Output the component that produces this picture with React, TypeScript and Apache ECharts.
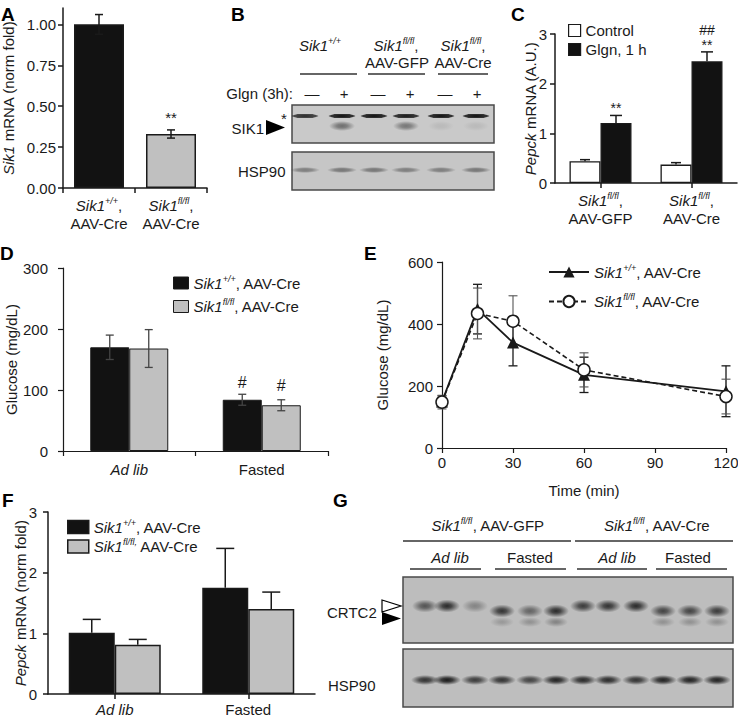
import React, { useEffect, useRef } from "react";
import * as echarts from "echarts";

const INK = "#1a1a1a";
const FONT = "'Liberation Sans', Arial, Helvetica, sans-serif";

// ---------------- data ----------------
// Panel A
const aCategories = ["+/+", "fl/fl"];
const aValues = [1.0, 0.33];
const aErrors = [0.06, 0.025];
const aSig = ["", "**"];
const aTicks = [0, 0.25, 0.5, 0.75, 1.0];

// Panel C
const cCategories = ["AAV-GFP", "AAV-Cre"];
const cControl = [0.44, 0.37];
const cControlErr = [0.03, 0.04];
const cGlgn = [1.21, 2.45];
const cGlgnErr = [0.15, 0.19];
const cSigStar = ["**", "**"];
const cSigHash = ["", "##"];
const cTicks = [0, 1, 2, 3];

// Panel D
const dCategories = ["Ad lib", "Fasted"];
const dItalic = [true, false];
const dWt = [170, 84];
const dWtErr = [20, 9];
const dKo = [168, 75];
const dKoErr = [31, 9];
const dSigWt = ["", "#"];
const dSigKo = ["", "#"];
const dTicks = [0, 100, 200, 300];

// Panel E
const eTime = [0, 15, 30, 60, 120];
const eWt = [150, 448, 340, 236, 183];
const eWtErr = [18, 80, 75, 57, 82];
const eKo = [148, 434, 409, 252, 166];
const eKoErr = [22, 82, 82, 55, 56];
const eYTicks = [0, 200, 400, 600];

// Panel F
const fCategories = ["Ad lib", "Fasted"];
const fItalic = [true, false];
const fWt = [1.01, 1.75];
const fWtErr = [0.22, 0.65];
const fKo = [0.81, 1.4];
const fKoErr = [0.09, 0.28];
const fTicks = [0, 1, 2, 3];

// Panel B blot (6 lanes)
const bLaneSigns = ["—", "+", "—", "+", "—", "+"];
const bSik1Upper = [0.85, 1, 1, 0.95, 1, 1];
const bSik1Lower = [0, 0.6, 0, 0.55, 0.1, 0.1];
const bHsp90 = [0.5, 0.55, 0.55, 0.5, 0.5, 0.55];

// Panel G blot (12 lanes)
const gCrtc2Main = [0.65, 0.9, 0.35, 0.85, 0.55, 0.9, 0.8, 0.85, 0.9, 0.75, 0.75, 0.8];
const gCrtc2Shift = [0, 0, 0, 1, 1, 1, 0, 0, 0, 1, 1, 1];
const gCrtc2Lower = [0, 0, 0, 0.25, 0.3, 0.4, 0, 0, 0, 0.3, 0.3, 0.3];
const gHsp90 = [0.85, 1, 0.8, 0.85, 0.75, 0.95, 0.9, 0.9, 0.85, 0.95, 0.95, 0.95];

// ---------------- helpers ----------------
function richSet(size: number) {
  const lh = size + 3;
  const sup = Math.round(size * 0.62);
  return {
    n: { fontSize: size, fontFamily: FONT, color: INK, lineHeight: lh },
    i: { fontSize: size, fontFamily: FONT, color: INK, fontStyle: "italic", lineHeight: lh },
    s: { fontSize: sup, fontFamily: FONT, color: INK, fontStyle: "italic", verticalAlign: "top", lineHeight: sup + 1 },
  };
}
const R15 = richSet(15);
const sik = (sup: string) => `{i|Sik1}{s|${sup}}`;

type ErrOpts = {
  offset: number; cap: number; both: boolean; color: string; width: number;
  sig?: string[]; sigGap?: number; sigSize?: number;
  sig2?: string[]; sig2Gap?: number;
};
function errorBars(o: ErrOpts) {
  return (params: any, api: any) => {
    const x0 = api.value(0);
    const v = api.value(1);
    const e = api.value(2);
    const pTop = api.coord([x0, v + e]);
    const pBot = api.coord([x0, o.both ? v - e : v]);
    const x = pTop[0] + o.offset;
    const st = { stroke: o.color, lineWidth: o.width };
    const ch: any[] = [
      { type: "line", shape: { x1: x, y1: pTop[1], x2: x, y2: pBot[1] }, style: st },
      { type: "line", shape: { x1: x - o.cap / 2, y1: pTop[1], x2: x + o.cap / 2, y2: pTop[1] }, style: st },
    ];
    if (o.both) {
      ch.push({ type: "line", shape: { x1: x - o.cap / 2, y1: pBot[1], x2: x + o.cap / 2, y2: pBot[1] }, style: st });
    }
    const s = o.sig ? o.sig[params.dataIndex] : "";
    if (s) {
      ch.push({ type: "text", x, y: pTop[1] - (o.sigGap ?? 8), style: { text: s, align: "center", verticalAlign: "middle", fontSize: o.sigSize ?? 14, fontFamily: FONT, fill: INK } });
    }
    const s2 = o.sig2 ? o.sig2[params.dataIndex] : "";
    if (s2) {
      ch.push({ type: "text", x, y: pTop[1] - (o.sig2Gap ?? 20), style: { text: s2, align: "center", verticalAlign: "middle", fontSize: o.sigSize ?? 14, fontFamily: FONT, fill: INK } });
    }
    return { type: "group", children: ch };
  };
}

const txt = (x: number, y: number, text: string, extra: any = {}) => ({
  type: "text", x, y, silent: true,
  style: { text, fontSize: 15, fontFamily: FONT, fill: INK, align: "center", verticalAlign: "middle", rich: R15, ...extra },
});
const hline = (x1: number, x2: number, y: number, w = 1.3) => ({
  type: "line", silent: true, shape: { x1, y1: y, x2, y2: y }, style: { stroke: "#333", lineWidth: w },
});
const blotRect = (x: number, y: number, w: number, h: number, fill: string) => ({
  type: "rect", silent: true, shape: { x, y, width: w, height: h }, style: { fill, stroke: "#4a4a4a", lineWidth: 1.5 },
});
function bandEls(centers: number[], ys: number[], w: number, h: number, intens: number[], rgb: string, core = 0.5) {
  const out: any[] = [];
  centers.forEach((cx, i) => {
    const a = intens[i];
    if (a > 0) {
      out.push({
        type: "ellipse", silent: true,
        shape: { cx, cy: ys[i], rx: w / 2, ry: h / 2 },
        style: {
          fill: {
            type: "radial", x: 0.5, y: 0.5, r: 0.5,
            colorStops: [
              { offset: 0, color: `rgba(${rgb},${a})` },
              { offset: core, color: `rgba(${rgb},${(a * 0.8).toFixed(3)})` },
              { offset: 1, color: `rgba(${rgb},0)` },
            ],
          },
        },
      });
    }
  });
  return out;
}

const letter = (x: number, y: number, t: string) => ({
  type: "text", x, y, silent: true,
  style: { text: t, fontSize: 19, fontWeight: "bold", fontFamily: FONT, fill: "#000", align: "left", verticalAlign: "middle" },
});

function buildGraphic() {
  const els: any[] = [];
  els.push(letter(1, 14, "A"), letter(231, 14, "B"), letter(511, 14, "C"), letter(0, 253, "D"), letter(364, 253, "E"), letter(2, 500, "F"), letter(333, 500, "G"));

  // ---- Panel B ----
  const bLaneX = [305, 342, 374, 406, 441, 476];
  const bSignX = [312, 344, 378, 410, 445, 477];
  els.push(txt(320, 45, sik("+/+")));
  els.push(txt(396, 45, `${sik("fl/fl")}{n|,}`), txt(397, 62, "AAV-GFP"));
  els.push(txt(463, 45, `${sik("fl/fl")}{n|,}`), txt(463, 62, "AAV-Cre"));
  els.push(hline(300, 357, 74), hline(368, 425, 74), hline(438, 488, 74));
  els.push(txt(293, 93, "Glgn (3h):", { align: "right" }));
  bLaneSigns.forEach((s, i) => els.push(txt(bSignX[i], 93, s)));
  els.push(blotRect(292, 105, 202, 38, "#c9c9c9"));
  els.push(blotRect(292, 152, 202, 38, "#c6c6c6"));
  els.push(...bandEls(bLaneX, bLaneX.map(() => 116), 28, 5, bSik1Upper, "15,15,15", 0.8));
  els.push(...bandEls(bLaneX, bLaneX.map(() => 126), 26, 10, bSik1Lower, "50,50,50", 0.4));
  els.push(...bandEls(bLaneX, bLaneX.map(() => 170), 30, 6, bHsp90, "50,50,50", 0.5));
  els.push(txt(264, 128, "SIK1", { align: "right" }));
  els.push({ type: "polygon", silent: true, shape: { points: [[266, 120], [266, 135], [285, 127.5]] }, style: { fill: "#000" } });
  els.push(txt(284, 118, "*", { fontSize: 15 }));
  els.push(txt(238, 171, "HSP90", { align: "left" }));

  // ---- Panel G ----
  const gLaneX = [425, 447, 475, 502, 530, 556, 583, 608, 636, 663, 690, 717];
  els.push(txt(488, 525, `${sik("fl/fl")}{n|, AAV-GFP}`));
  els.push(txt(657, 525, `${sik("fl/fl")}{n|, AAV-Cre}`));
  els.push(hline(403, 571, 541), hline(575, 733, 541));
  els.push(txt(450, 557, "{i|Ad lib}"), txt(530, 557, "Fasted"), txt(617, 557, "{i|Ad lib}"), txt(688, 557, "Fasted"));
  els.push(hline(410, 481, 569), hline(495, 566, 569), hline(577, 647, 569), hline(656, 727, 569));
  els.push(blotRect(403, 577, 330, 66, "#bdbdbd"));
  els.push(blotRect(403, 649, 330, 58, "#bebebe"));
  els.push(...bandEls(gLaneX, gCrtc2Shift.map((s) => (s ? 611 : 606)), 26, 13, gCrtc2Main, "25,25,25", 0.35));
  els.push(...bandEls(gLaneX, gLaneX.map(() => 622), 24, 10, gCrtc2Lower, "40,40,40", 0.3));
  els.push(...bandEls(gLaneX, gLaneX.map(() => 680), 28, 10, gHsp90, "25,25,25", 0.4));
  els.push(txt(327, 612, "CRTC2", { align: "left" }));
  els.push({ type: "polygon", silent: true, shape: { points: [[382, 600], [382, 612], [401, 606]] }, style: { fill: "#fff", stroke: "#000", lineWidth: 1.2 } });
  els.push({ type: "polygon", silent: true, shape: { points: [[382, 612], [382, 625], [401, 618.5]] }, style: { fill: "#000" } });
  els.push(txt(328, 685, "HSP90", { align: "left" }));
  return els;
}

const axisLineS = (w: number) => ({ show: true, lineStyle: { color: INK, width: w } });
const tickS = (w: number, extra: any = {}) => ({ show: true, length: 5, lineStyle: { color: INK, width: w }, ...extra });
const labelBase = { fontSize: 15, fontFamily: FONT, color: INK };

const legendNames: Record<string, string> = {
  cCtrl: "{n|Control}",
  cGlgn: "{n|Glgn, 1 h}",
  dWt: `${sik("+/+")}{n|, AAV-Cre}`,
  dKo: `${sik("fl/fl")}{n|, AAV-Cre}`,
  eWt: `${sik("+/+")}{n|, AAV-Cre}`,
  eKo: `${sik("fl/fl")}{n|, AAV-Cre}`,
  fWt: `${sik("+/+")}{n|, AAV-Cre}`,
  fKo: `${sik("fl/fl,")}{n| AAV-Cre}`,
};

function buildOption() {
  const gridBase = { containLabel: false, outerBoundsMode: "none" };
  const legendBase = {
    orient: "vertical", padding: 0, selectedMode: false,
    formatter: (n: string) => legendNames[n],
    textStyle: { ...labelBase, rich: R15 },
  };
  const nameBase = { nameLocation: "middle", nameMoveOverlap: false };
  const BLACK = "#121212";
  const GRAY = "#c0c0c0";
  return {
    animation: false,
    textStyle: { fontFamily: FONT },
    graphic: { elements: buildGraphic() },
    grid: [
      { left: 63, top: 8, width: 144, height: 180, ...gridBase },
      { left: 555, top: 34, width: 182, height: 149, ...gridBase },
      { left: 63, top: 268, width: 265, height: 183, ...gridBase },
      { left: 442, top: 262, width: 284, height: 186, ...gridBase },
      { left: 48, top: 512, width: 267, height: 182, ...gridBase },
    ],
    legend: [
      { ...legendBase, left: 568, top: 23, itemWidth: 12, itemHeight: 12, itemGap: 4, icon: "rect", data: ["cCtrl", "cGlgn"], itemStyle: { borderColor: INK, borderWidth: 1.2 } },
      { ...legendBase, left: 173, top: 274, itemWidth: 15, itemHeight: 12, itemGap: 7, icon: "rect", data: ["dWt", "dKo"], itemStyle: { borderColor: INK, borderWidth: 1 } },
      { ...legendBase, left: 548, top: 263, itemWidth: 40, itemHeight: 14, itemGap: 13, data: ["eWt", "eKo"] },
      { ...legendBase, left: 67, top: 518, itemWidth: 21, itemHeight: 13, itemGap: 3, icon: "rect", data: ["fWt", "fKo"], itemStyle: { borderColor: INK, borderWidth: 1.5 } },
    ],
    xAxis: [
      {
        gridIndex: 0, type: "category", data: aCategories,
        axisLine: axisLineS(1.5), axisTick: tickS(1.5),
        axisLabel: { ...labelBase, interval: 0, margin: 8, lineHeight: 18, rich: R15, formatter: (v: string) => `${sik(v)}{n|,}\n{n|AAV-Cre}` },
      },
      {
        gridIndex: 1, type: "category", data: cCategories,
        axisLine: axisLineS(1.5), axisTick: tickS(1.5, { alignWithLabel: true }),
        axisLabel: { ...labelBase, interval: 0, margin: 8, lineHeight: 18, rich: R15, formatter: (v: string) => `${sik("fl/fl")}{n|,}\n{n|${v}}` },
      },
      {
        gridIndex: 2, type: "category", data: dCategories,
        axisLine: axisLineS(1.2), axisTick: tickS(1.2),
        axisLabel: { ...labelBase, interval: 0, margin: 9, rich: R15, formatter: (v: string, i: number) => (dItalic[i] ? `{i|${v}}` : `{n|${v}}`) },
      },
      {
        gridIndex: 3, type: "value", min: 0, max: 120, interval: 30,
        axisLine: axisLineS(1.2), axisTick: tickS(1.2), splitLine: { show: false },
        axisLabel: { ...labelBase, margin: 7 },
        name: "Time (min)", ...nameBase, nameGap: 35, nameTextStyle: { ...labelBase },
      },
      {
        gridIndex: 4, type: "category", data: fCategories,
        axisLine: axisLineS(1.5), axisTick: tickS(1.5, { alignWithLabel: true }),
        axisLabel: { ...labelBase, interval: 0, margin: 6, rich: R15, formatter: (v: string, i: number) => (fItalic[i] ? `{i|${v}}` : `{n|${v}}`) },
      },
    ],
    yAxis: [
      {
        gridIndex: 0, type: "value", min: 0, max: 1.1,
        axisLine: axisLineS(1.5), axisTick: tickS(1.5, { customValues: aTicks }), splitLine: { show: false },
        axisLabel: { ...labelBase, margin: 7, customValues: aTicks, formatter: (v: number) => v.toFixed(2) },
        name: "{i|Sik1}{n| mRNA (norm fold)}", ...nameBase, nameGap: 46, nameTextStyle: { ...labelBase, rich: R15 },
      },
      {
        gridIndex: 1, type: "value", min: 0, max: 3, interval: 1,
        axisLine: axisLineS(1.5), axisTick: tickS(1.5, { customValues: cTicks }), splitLine: { show: false },
        axisLabel: { ...labelBase, margin: 8, customValues: cTicks },
        name: "{i|Pepck}{n| mRNA (A.U.)}", ...nameBase, nameGap: 16, nameTextStyle: { ...labelBase, rich: R15 },
      },
      {
        gridIndex: 2, type: "value", min: 0, max: 300, interval: 100,
        axisLine: axisLineS(1.2), axisTick: tickS(1.2, { customValues: dTicks }), splitLine: { show: false },
        axisLabel: { ...labelBase, margin: 15, customValues: dTicks },
        name: "Glucose (mg/dL)", ...nameBase, nameGap: 44, nameTextStyle: { ...labelBase },
      },
      {
        gridIndex: 3, type: "value", min: 0, max: 600, interval: 200,
        axisLine: axisLineS(1.2), axisTick: tickS(1.2, { customValues: eYTicks }), splitLine: { show: false },
        axisLabel: { ...labelBase, margin: 9, customValues: eYTicks },
        name: "Glucose (mg/dL)", ...nameBase, nameGap: 52, nameTextStyle: { ...labelBase },
      },
      {
        gridIndex: 4, type: "value", min: 0, max: 3, interval: 1,
        axisLine: axisLineS(1.5), axisTick: tickS(1.5, { customValues: fTicks }), splitLine: { show: false },
        axisLabel: { ...labelBase, margin: 11, customValues: fTicks },
        name: "{i|Pepck}{n| mRNA (norm fold)}", ...nameBase, nameGap: 19, nameTextStyle: { ...labelBase, rich: R15 },
      },
    ],
    series: [
      // ---- A ----
      {
        name: "aBars", type: "bar", xAxisIndex: 0, yAxisIndex: 0, barWidth: 50,
        data: aValues.map((v, i) => ({ value: v, itemStyle: { color: i === 0 ? BLACK : GRAY } })),
        itemStyle: { borderColor: INK, borderWidth: 1.5 },
      },
      {
        type: "custom", xAxisIndex: 0, yAxisIndex: 0, z: 5, encode: { x: 0, y: 1 },
        data: aValues.map((v, i) => [i, v, aErrors[i]]),
        renderItem: errorBars({ offset: 0, cap: 8, both: true, color: INK, width: 1.5, sig: aSig, sigGap: 12, sigSize: 15 }),
      },
      // ---- C ----
      {
        name: "cCtrl", type: "bar", xAxisIndex: 1, yAxisIndex: 1, barWidth: 31, barGap: "0%",
        data: cControl, itemStyle: { color: "#fff", borderColor: INK, borderWidth: 1.3 },
      },
      {
        name: "cGlgn", type: "bar", xAxisIndex: 1, yAxisIndex: 1, barWidth: 31, barGap: "0%",
        data: cGlgn, itemStyle: { color: BLACK, borderColor: INK, borderWidth: 1.3 },
      },
      {
        type: "custom", xAxisIndex: 1, yAxisIndex: 1, z: 5, encode: { x: 0, y: 1 },
        data: cControl.map((v, i) => [i, v, cControlErr[i]]),
        renderItem: errorBars({ offset: -15.5, cap: 10, both: false, color: INK, width: 1.5 }),
      },
      {
        type: "custom", xAxisIndex: 1, yAxisIndex: 1, z: 5, encode: { x: 0, y: 1 },
        data: cGlgn.map((v, i) => [i, v, cGlgnErr[i]]),
        renderItem: errorBars({ offset: 15.5, cap: 12, both: false, color: INK, width: 1.5, sig: cSigStar, sigGap: 7, sigSize: 14, sig2: cSigHash, sig2Gap: 22 }),
      },
      // ---- D ----
      {
        name: "dWt", type: "bar", xAxisIndex: 2, yAxisIndex: 2, barWidth: 39, barGap: "0%",
        data: dWt, itemStyle: { color: BLACK, borderColor: INK, borderWidth: 1 },
      },
      {
        name: "dKo", type: "bar", xAxisIndex: 2, yAxisIndex: 2, barWidth: 39, barGap: "0%",
        data: dKo, itemStyle: { color: GRAY, borderColor: INK, borderWidth: 1 },
      },
      {
        type: "custom", xAxisIndex: 2, yAxisIndex: 2, z: 5, encode: { x: 0, y: 1 },
        data: dWt.map((v, i) => [i, v, dWtErr[i]]),
        renderItem: errorBars({ offset: -19.5, cap: 8, both: true, color: "#444", width: 1.3, sig: dSigWt, sigGap: 12, sigSize: 16 }),
      },
      {
        type: "custom", xAxisIndex: 2, yAxisIndex: 2, z: 5, encode: { x: 0, y: 1 },
        data: dKo.map((v, i) => [i, v, dKoErr[i]]),
        renderItem: errorBars({ offset: 19.5, cap: 8, both: true, color: "#444", width: 1.3, sig: dSigKo, sigGap: 14, sigSize: 16 }),
      },
      // ---- E ----
      {
        type: "custom", xAxisIndex: 3, yAxisIndex: 3, z: 1, encode: { x: 0, y: 1 },
        data: eTime.map((t, i) => [t, eWt[i], eWtErr[i]]),
        renderItem: errorBars({ offset: 0, cap: 9, both: true, color: INK, width: 1.3 }),
      },
      {
        type: "custom", xAxisIndex: 3, yAxisIndex: 3, z: 1, encode: { x: 0, y: 1 },
        data: eTime.map((t, i) => [t, eKo[i], eKoErr[i]]),
        renderItem: errorBars({ offset: 0, cap: 9, both: true, color: "#555", width: 1.1 }),
      },
      {
        name: "eWt", type: "line", xAxisIndex: 3, yAxisIndex: 3, z: 3,
        data: eTime.map((t, i) => [t, eWt[i]]),
        symbol: "triangle", symbolSize: 12,
        lineStyle: { color: INK, width: 1.8, type: "solid" },
        itemStyle: { color: INK, borderColor: INK, borderWidth: 0 },
      },
      {
        name: "eKo", type: "line", xAxisIndex: 3, yAxisIndex: 3, z: 4,
        data: eTime.map((t, i) => [t, eKo[i]]),
        symbol: "circle", symbolSize: 12,
        lineStyle: { color: INK, width: 1.6, type: [5, 3] },
        itemStyle: { color: "#fff", borderColor: INK, borderWidth: 1.5 },
      },
      // ---- F ----
      {
        name: "fWt", type: "bar", xAxisIndex: 4, yAxisIndex: 4, barWidth: 46, barGap: "0%",
        data: fWt, itemStyle: { color: BLACK, borderColor: INK, borderWidth: 1.5 },
      },
      {
        name: "fKo", type: "bar", xAxisIndex: 4, yAxisIndex: 4, barWidth: 46, barGap: "0%",
        data: fKo, itemStyle: { color: GRAY, borderColor: INK, borderWidth: 1.5 },
      },
      {
        type: "custom", xAxisIndex: 4, yAxisIndex: 4, z: 5, encode: { x: 0, y: 1 },
        data: fWt.map((v, i) => [i, v, fWtErr[i]]),
        renderItem: errorBars({ offset: -23, cap: 18, both: false, color: INK, width: 1.5 }),
      },
      {
        type: "custom", xAxisIndex: 4, yAxisIndex: 4, z: 5, encode: { x: 0, y: 1 },
        data: fKo.map((v, i) => [i, v, fKoErr[i]]),
        renderItem: errorBars({ offset: 23, cap: 18, both: false, color: INK, width: 1.5 }),
      },
    ],
  };
}

export default function App() {
  const ref = useRef<HTMLDivElement>(null);
  useEffect(() => {
    if (!ref.current) return;
    const chart = echarts.init(ref.current, undefined, { renderer: "svg" });
    chart.setOption(buildOption() as any);
    return () => chart.dispose();
  }, []);
  return (
    <div
      ref={ref}
      style={{ position: "absolute", left: 0, top: 0, width: 738, height: 718, background: "#fff" }}
    />
  );
}
